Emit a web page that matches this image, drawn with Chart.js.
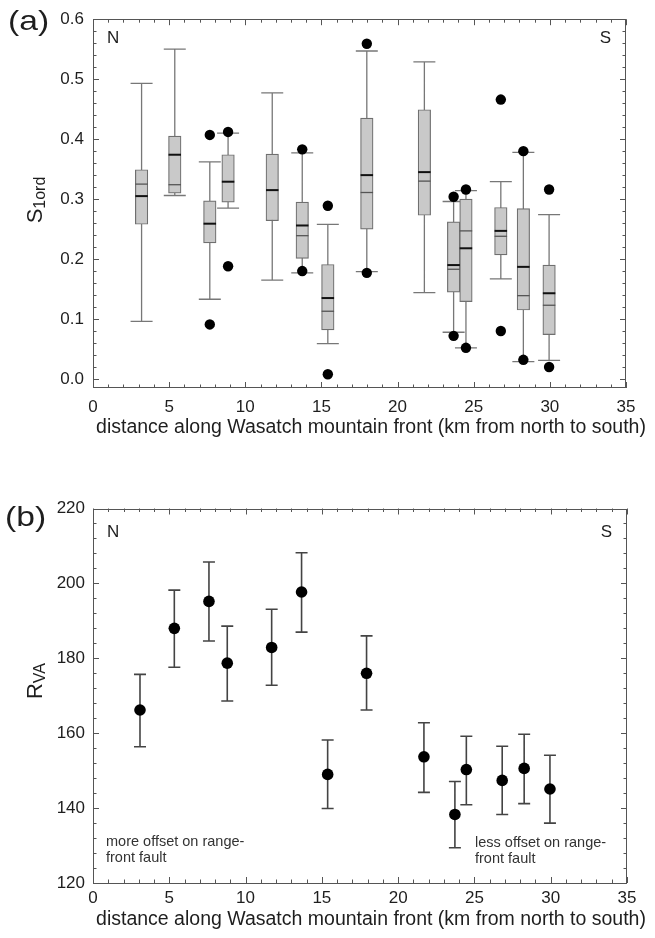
<!DOCTYPE html>
<html><head><meta charset="utf-8">
<script src="https://cdn.jsdelivr.net/npm/chart.js@4"></script>
<style>
html,body{margin:0;padding:0;background:#fff;width:655px;height:938px;overflow:hidden}
.wrap{position:absolute;left:0;width:655px}
#wa{top:0;height:445px}
#wb{top:445px;height:493px}
canvas{display:block}
</style></head><body>
<div class="wrap" id="wa"><canvas id="ca" width="655" height="445"></canvas></div>
<div class="wrap" id="wb"><canvas id="cb" width="655" height="493"></canvas></div>
<script>
// ---------- Panel (a): S1ord box plots ----------
const boxDistance = [3.19, 5.37, 7.67, 8.87, 11.77, 13.74, 15.42, 17.98, 21.76, 23.68, 24.49, 26.78, 28.26, 29.95];
const whiskerLow  = [0.096, 0.306, 0.133, 0.285, 0.165, 0.177, 0.059, 0.179, 0.144, 0.078, 0.052, 0.167, 0.029, 0.031];
const quartile1   = [0.258, 0.310, 0.227, 0.295, 0.264, 0.201, 0.082, 0.250, 0.273, 0.145, 0.129, 0.207, 0.115, 0.074];
const medianVal   = [0.305, 0.374, 0.259, 0.329, 0.315, 0.256, 0.135, 0.340, 0.345, 0.190, 0.218, 0.247, 0.187, 0.143];
const meanVal     = [0.325, 0.324, null, null, null, 0.239, 0.113, 0.311, 0.330, 0.183, 0.247, 0.238, 0.139, 0.123];
const quartile3   = [0.349, 0.405, 0.297, 0.374, 0.375, 0.295, 0.191, 0.435, 0.449, 0.262, 0.300, 0.286, 0.284, 0.190];
const whiskerHigh = [0.493, 0.550, 0.362, 0.410, 0.477, 0.377, 0.258, 0.547, 0.529, 0.296, 0.314, 0.329, 0.378, 0.274];
const outlierDistance = [7.67, 7.67, 8.87, 8.87, 13.74, 13.74, 15.42, 15.42, 17.98, 17.98, 23.68, 23.68, 24.49, 24.49, 26.78, 26.78, 28.26, 28.26, 29.95, 29.95];
const outlierValue    = [0.407, 0.091, 0.412, 0.188, 0.383, 0.180, 0.289, 0.008, 0.559, 0.177, 0.304, 0.072, 0.316, 0.052, 0.466, 0.080, 0.380, 0.032, 0.316, 0.020];
const yTicksA = [0.0, 0.1, 0.2, 0.3, 0.4, 0.5, 0.6];

// ---------- Panel (b): RVA with error bars ----------
const rvaDistance = [3.08, 5.33, 7.60, 8.80, 11.71, 13.67, 15.38, 17.93, 21.69, 23.72, 24.47, 26.82, 28.26, 29.95];
const rva      = [166.2, 188.0, 195.2, 178.7, 182.9, 197.7, 149.0, 176.0, 153.7, 138.3, 150.3, 147.4, 150.6, 145.1];
const rvaUpper = [175.7, 198.2, 205.7, 188.6, 193.1, 208.2, 158.2, 186.0, 162.8, 147.1, 159.2, 156.5, 159.7, 154.1];
const rvaLower = [156.4, 177.6, 184.6, 168.6, 172.8, 187.0, 139.9, 166.2, 144.2, 129.4, 140.9, 138.3, 141.2, 136.0];
const xTicks = [0, 5, 10, 15, 20, 25, 30, 35];

const FONT = "'Liberation Sans', Arial, Helvetica, sans-serif";
const TXT = '#1e1e1e';
Chart.defaults.font.family = FONT;
Chart.defaults.font.size = 16;
Chart.defaults.color = TXT;

const BOX_W = 12.5;

function frameTicks(opts) {
  return {
    id: 'frameTicks',
    afterDraw(chart) {
      const {ctx, chartArea: a, scales: {x, y}} = chart;
      ctx.save();
      ctx.strokeStyle = '#555';
      ctx.lineWidth = 1;
      ctx.strokeRect(Math.round(a.left) + 0.5, Math.round(a.top) + 0.5,
        Math.round(a.right - a.left) - 1, Math.round(a.bottom - a.top) - 1);
      ctx.beginPath();
      for (let k = 0; k <= 35; k++) {
        const px = Math.round(x.getPixelForValue(k)) + 0.5;
        const L = k % 5 === 0 ? 6 : 3.5;
        ctx.moveTo(px, a.bottom); ctx.lineTo(px, a.bottom - L);
        ctx.moveTo(px, a.top); ctx.lineTo(px, a.top + L);
      }
      for (let k = 0; k <= opts.nMinor; k++) {
        const v = opts.y0 + k * opts.yStep;
        const py = Math.round(y.getPixelForValue(v)) + 0.5;
        const L = k % opts.majorEvery === 0 ? 6 : 3.5;
        ctx.moveTo(a.left, py); ctx.lineTo(a.left + L, py);
        ctx.moveTo(a.right, py); ctx.lineTo(a.right - L, py);
      }
      ctx.stroke();
      // panel label (slightly wide lettering as in the original)
      ctx.fillStyle = TXT;
      ctx.textBaseline = 'middle';
      ctx.textAlign = 'left';
      ctx.save();
      ctx.translate(opts.panelX, opts.panelY);
      ctx.scale(1.2, 1);
      ctx.font = '28px ' + FONT;
      ctx.fillText(opts.panel, 0, 0);
      ctx.restore();
      ctx.font = '17px ' + FONT;
      ctx.fillText('N', a.left + 14, a.top + opts.nsDy);
      ctx.textAlign = 'right';
      ctx.fillText('S', a.right - 15, a.top + opts.nsDy);
      // x title
      ctx.textAlign = 'center';
      ctx.font = '19.5px ' + FONT;
      ctx.fillText('distance along Wasatch mountain front (km from north to south)', opts.xTitleX, opts.xTitleY);
      // y title with subscript
      ctx.save();
      ctx.translate(opts.yTitleX, opts.yTitleY);
      ctx.rotate(-Math.PI / 2);
      ctx.font = '22px ' + FONT;
      const w1 = ctx.measureText(opts.yMain).width;
      ctx.font = '16px ' + FONT;
      const w2 = ctx.measureText(opts.ySub).width;
      const start = -(w1 + w2) / 2;
      ctx.textAlign = 'left';
      ctx.font = '22px ' + FONT;
      ctx.fillText(opts.yMain, start, 0);
      ctx.font = '16px ' + FONT;
      ctx.fillText(opts.ySub, start + w1, 5);
      ctx.restore();
      if (opts.notes) {
        ctx.font = '14.5px ' + FONT;
        ctx.fillStyle = '#333';
        ctx.textAlign = 'left';
        opts.notes.forEach(n => ctx.fillText(n.t, n.x, n.y));
      }
      ctx.restore();
    }
  };
}

const boxPlugin = {
  id: 'boxParts',
  beforeDatasetsDraw(chart) {
    const {ctx, scales: {x, y}} = chart;
    ctx.save();
    ctx.strokeStyle = '#777';
    ctx.lineWidth = 1.3;
    ctx.beginPath();
    boxDistance.forEach((d, i) => {
      const px = x.getPixelForValue(d);
      const yl = y.getPixelForValue(whiskerLow[i]);
      const yh = y.getPixelForValue(whiskerHigh[i]);
      ctx.moveTo(px, yl); ctx.lineTo(px, yh);
      ctx.moveTo(px - 11, yh); ctx.lineTo(px + 11, yh);
      ctx.moveTo(px - 11, yl); ctx.lineTo(px + 11, yl);
    });
    ctx.stroke();
    ctx.restore();
  },
  afterDatasetsDraw(chart) {
    const {ctx, scales: {x, y}} = chart;
    ctx.save();
    boxDistance.forEach((d, i) => {
      const px = x.getPixelForValue(d);
      if (meanVal[i] !== null) {
        const pm = y.getPixelForValue(meanVal[i]);
        ctx.strokeStyle = '#555';
        ctx.lineWidth = 1.3;
        ctx.beginPath(); ctx.moveTo(px - BOX_W / 2, pm); ctx.lineTo(px + BOX_W / 2, pm); ctx.stroke();
      }
      const pmed = y.getPixelForValue(medianVal[i]);
      ctx.strokeStyle = '#111';
      ctx.lineWidth = 2;
      ctx.beginPath(); ctx.moveTo(px - BOX_W / 2, pmed); ctx.lineTo(px + BOX_W / 2, pmed); ctx.stroke();
    });
    ctx.restore();
  }
};

const errPlugin = {
  id: 'errBars',
  beforeDatasetsDraw(chart) {
    const {ctx, scales: {x, y}} = chart;
    ctx.save();
    ctx.strokeStyle = '#444';
    ctx.lineWidth = 1.6;
    ctx.beginPath();
    rvaDistance.forEach((d, i) => {
      const px = x.getPixelForValue(d);
      const yl = y.getPixelForValue(rvaLower[i]);
      const yh = y.getPixelForValue(rvaUpper[i]);
      ctx.moveTo(px, yl); ctx.lineTo(px, yh);
      ctx.moveTo(px - 6, yh); ctx.lineTo(px + 6, yh);
      ctx.moveTo(px - 6, yl); ctx.lineTo(px + 6, yl);
    });
    ctx.stroke();
    ctx.restore();
  }
};

function xScale(h, pad) {
  return {
    type: 'linear', min: 0, max: 35, offset: false,
    grid: {display: false, drawTicks: false, offset: false}, border: {display: false},
    afterBuildTicks: s => { s.ticks = xTicks.map(v => ({value: v})); },
    ticks: {padding: pad, color: TXT, font: {size: 17}},
    afterFit: s => { s.height = h; }
  };
}

new Chart(document.getElementById('ca'), {
  data: {
    datasets: [
      {
        type: 'scatter', order: 0,
        data: outlierDistance.map((d, i) => ({x: d, y: outlierValue[i]})),
        pointRadius: 5.2, pointBackgroundColor: '#000', pointBorderWidth: 0
      },
      {
        type: 'bar', order: 1,
        data: boxDistance.map((d, i) => ({x: d, y: [quartile1[i], quartile3[i]]})),
        backgroundColor: '#c9c9c9', borderColor: '#6f6f6f', borderWidth: 1.2,
        borderSkipped: false, barThickness: BOX_W, grouped: false
      }
    ]
  },
  options: {
    responsive: false, animation: false, devicePixelRatio: 1,
    layout: {padding: {top: 15, right: 29, left: 0, bottom: 0}},
    plugins: {legend: {display: false}, tooltip: {enabled: false}},
    scales: {
      x: xScale(57, 9),
      y: {
        type: 'linear', min: -0.015, max: 0.6,
        grid: {display: false, drawTicks: false}, border: {display: false},
        afterBuildTicks: s => { s.ticks = yTicksA.map(v => ({value: v})); },
        ticks: {padding: 9, color: TXT, font: {size: 17}, callback: v => v.toFixed(1)},
        afterFit: s => { s.width = 93; }
      }
    }
  },
  plugins: [boxPlugin, frameTicks({
    nMinor: 30, y0: 0, yStep: 0.02, majorEvery: 5,
    panel: '(a)', panelX: 8, panelY: 22, nsDy: 19,
    xTitleX: 371, xTitleY: 428,
    yTitleX: 36, yTitleY: 200, yMain: 'S', ySub: '1ord'
  })]
});

new Chart(document.getElementById('cb'), {
  type: 'scatter',
  data: {
    datasets: [{
      data: rvaDistance.map((d, i) => ({x: d, y: rva[i]})),
      pointRadius: 5.8, pointBackgroundColor: '#000', pointBorderWidth: 0
    }]
  },
  options: {
    responsive: false, animation: false, devicePixelRatio: 1,
    layout: {padding: {top: 63.5, right: 28, left: 0, bottom: 0}},
    plugins: {legend: {display: false}, tooltip: {enabled: false}},
    scales: {
      x: xScale(55, 5),
      y: {
        type: 'linear', min: 120, max: 220,
        grid: {display: false, drawTicks: false}, border: {display: false},
        ticks: {stepSize: 20, padding: 8, color: TXT, font: {size: 17}},
        afterFit: s => { s.width = 93; }
      }
    }
  },
  plugins: [errPlugin, frameTicks({
    nMinor: 25, y0: 120, yStep: 4, majorEvery: 5,
    panel: '(b)', panelX: 5, panelY: 73, nsDy: 24,
    xTitleX: 371, xTitleY: 475,
    yTitleX: 36, yTitleY: 236, yMain: 'R', ySub: 'VA',
    notes: [
      {t: 'more offset on range-', x: 106, y: 397},
      {t: 'front fault', x: 106, y: 413},
      {t: 'less offset on range-', x: 475, y: 398},
      {t: 'front fault', x: 475, y: 414}
    ]
  })]
});
</script></body></html>
